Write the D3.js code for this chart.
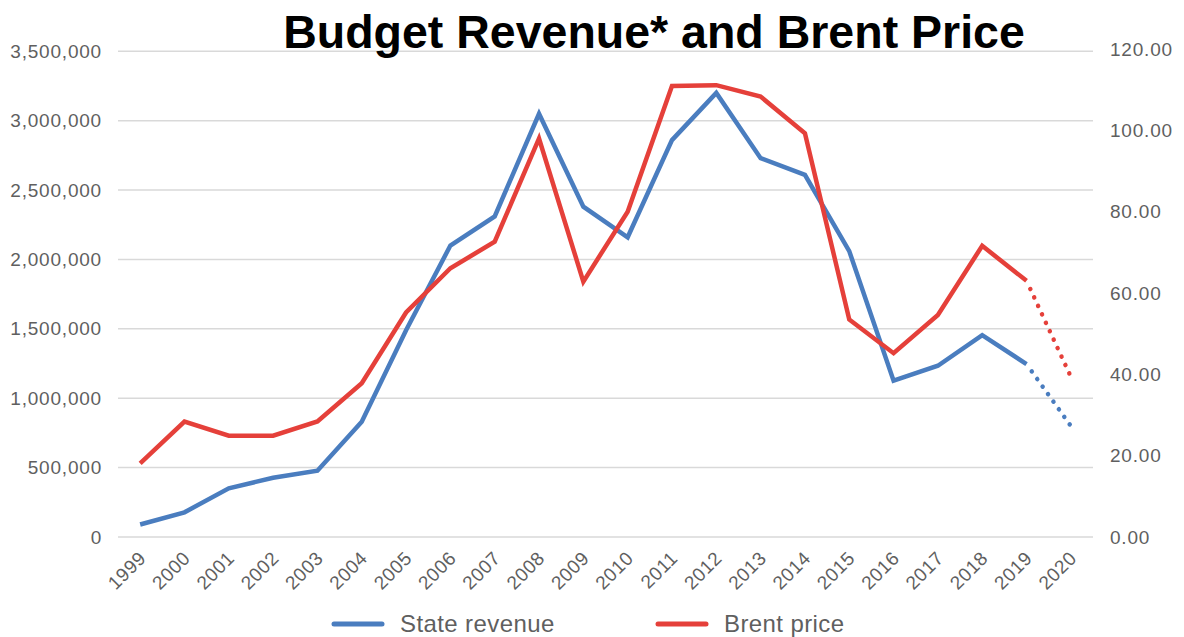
<!DOCTYPE html>
<html>
<head>
<meta charset="utf-8">
<script src="https://cdn.jsdelivr.net/npm/d3@7"></script>
<style>
  html, body { margin: 0; padding: 0; background: #ffffff; }
  svg { display: block; font-family: "Liberation Sans", Arial, Helvetica, sans-serif; }
</style>
</head>
<body>
<svg id="chart" width="1184" height="637"></svg>
<script>
// Years on the x axis
const years = ["1999","2000","2001","2002","2003","2004","2005","2006","2007","2008",
  "2009","2010","2011","2012","2013","2014","2015","2016","2017","2018","2019","2020"];

// State budget revenue (left axis)
const stateRevenue = [90000, 178000, 351000, 427000, 478000, 831000, 1490000, 2100000,
  2310000, 3050000, 2380000, 2160000, 2860000, 3200000, 2730000, 2610000, 2060000,
  1126000, 1234000, 1455000, 1246000, 800000];

// Brent crude price, USD per barrel (right axis)
const brentPrice = [18.1, 28.4, 24.9, 24.9, 28.4, 37.8, 55.2, 66.1, 72.6, 98.0,
  62.8, 80.0, 110.9, 111.1, 108.3, 99.3, 53.5, 45.2, 54.6, 71.6, 63.0, 39.4];

// Tick values for both axes
const leftTicks = [0, 500000, 1000000, 1500000, 2000000, 2500000, 3000000, 3500000];
const rightTicks = [0, 20, 40, 60, 80, 100, 120];

// Index of the first forecast value (drawn dotted from the previous year)
const forecastFrom = 21;

const titleText = "Budget Revenue* and Brent Price";
const seriesNames = ["State revenue", "Brent price"];

const blue = "#4a7dbf";
const red = "#e5403a";
const labelColor = "#5f5f5f";

const svg = d3.select("#chart");

const x = d3.scalePoint().domain(years).range([118, 1093]).padding(0.5);
const yL = d3.scaleLinear().domain([0, 3500000]).range([537, 51.3]);
const yR = d3.scaleLinear().domain([0, 120]).range([537, 49]);

// Horizontal gridlines follow the left axis
svg.append("g")
  .selectAll("line")
  .data(leftTicks)
  .join("line")
  .attr("x1", 118).attr("x2", 1093)
  .attr("y1", d => yL(d)).attr("y2", d => yL(d))
  .attr("stroke", "#d9d9d9")
  .attr("stroke-width", 1.5);

// Left axis labels
const leftAxis = d3.axisLeft(yL).tickValues(leftTicks).tickFormat(d3.format(",")).tickSize(0).tickPadding(0);
const gL = svg.append("g").attr("transform", "translate(102,0)").call(leftAxis);
gL.select(".domain").remove();
gL.selectAll("text")
  .attr("fill", labelColor)
  .attr("font-size", 19)
  .attr("letter-spacing", 0.8)
  .attr("font-family", "Liberation Sans, Arial, sans-serif");

// Right axis labels
const rightAxis = d3.axisRight(yR).tickValues(rightTicks).tickFormat(d3.format(".2f")).tickSize(0).tickPadding(0);
const gR = svg.append("g").attr("transform", "translate(1110,0)").call(rightAxis);
gR.select(".domain").remove();
gR.selectAll("text")
  .attr("fill", labelColor)
  .attr("font-size", 19)
  .attr("letter-spacing", 0.8)
  .attr("font-family", "Liberation Sans, Arial, sans-serif");

// Bottom axis with rotated year labels
const bottomAxis = d3.axisBottom(x).tickSize(0).tickPadding(0);
const gB = svg.append("g").attr("transform", "translate(0,548)").call(bottomAxis);
gB.select(".domain").remove();
gB.selectAll("text")
  .attr("fill", labelColor)
  .attr("font-size", 19)
  .attr("letter-spacing", 0.5)
  .attr("font-family", "Liberation Sans, Arial, sans-serif")
  .attr("text-anchor", "end")
  .attr("dy", "0.7em")
  .attr("transform", "translate(-3,2) rotate(-45)");

// Draws one series: solid for actual values, dotted for the forecast step
function drawSeries(values, yScale, color) {
  const pts = years.map((yr, i) => [x(yr), yScale(values[i])]);
  const line = d3.line();
  svg.append("path")
    .attr("d", line(pts.slice(0, forecastFrom)))
    .attr("fill", "none")
    .attr("stroke", color)
    .attr("stroke-width", 4.5)
    .attr("stroke-linejoin", "miter");
  svg.append("path")
    .attr("d", line(pts.slice(forecastFrom - 1)))
    .attr("fill", "none")
    .attr("stroke", color)
    .attr("stroke-width", 4.5)
    .attr("stroke-linecap", "round")
    .attr("stroke-dasharray", "0.1 9.2")
    .attr("stroke-dashoffset", -9);
}

drawSeries(stateRevenue, yL, blue);
drawSeries(brentPrice, yR, red);

// Title
svg.append("text")
  .attr("x", 654)
  .attr("y", 48)
  .attr("text-anchor", "middle")
  .attr("font-size", 46.5)
  .attr("font-weight", "bold")
  .attr("fill", "#000000")
  .text(titleText);

// Legend
const legend = svg.append("g");
const legendItems = [
  { name: seriesNames[0], color: blue, x: 334 },
  { name: seriesNames[1], color: red, x: 658 }
];
legendItems.forEach(item => {
  legend.append("line")
    .attr("x1", item.x).attr("x2", item.x + 48)
    .attr("y1", 624).attr("y2", 624)
    .attr("stroke", item.color)
    .attr("stroke-width", 5)
    .attr("stroke-linecap", "round");
  legend.append("text")
    .attr("x", item.x + 66)
    .attr("y", 632)
    .attr("font-size", 24)
    .attr("letter-spacing", 0.4)
    .attr("fill", labelColor)
    .text(item.name);
});
</script>
</body>
</html>
